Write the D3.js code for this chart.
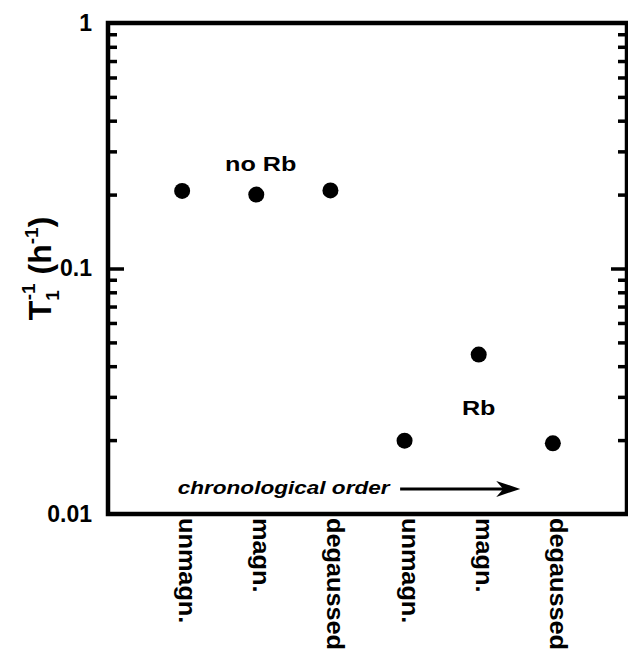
<!DOCTYPE html>
<html>
<head>
<meta charset="utf-8">
<script src="https://cdn.jsdelivr.net/npm/d3@7"></script>
<style>
body { margin: 0; background: #fff; }
text { font-family: "Liberation Sans", Arial, Helvetica, sans-serif; fill: #000; }
</style>
</head>
<body>
<div id="chart"></div>
<script>
// measurement order (chronological), T1^-1 in 1/h
const categories = ['unmagn.', 'magn.', 'degaussed', 'unmagn.', 'magn.', 'degaussed'];
const rates = [0.207, 0.200, 0.208, 0.0199, 0.0446, 0.0194];
const yTicks = [1, 0.1, 0.01];
const yTickLabels = ['1', '0.1', '0.01'];

const svgWidth = 628
const svgHeight = 649
const margin = { left: 108, right: 1, top: 23, bottom: 135 };
const [width, height] = [svgWidth - margin.left - margin.right, svgHeight - margin.top - margin.bottom];

function translate(x, y) {
    return 'translate(' + x + ',' + y + ')';
}

let svg = d3.select('#chart').append('svg')
    .attr('width', svgWidth)
    .attr('height', svgHeight)

let plot = svg.append('g')
    .attr('transform', translate(margin.left, margin.top))

let xScale = d3.scaleLinear()
    .domain([0, categories.length + 1])
    .range([0, width]);

let yScale = d3.scaleLog()
    .domain([0.01, 1])
    .range([height, 0]);

const minorTicks = yScale.ticks().filter(d => !yTicks.includes(d));

// left side: minor + major ticks pointing inwards
plot.append('g').call(d3.axisRight(yScale).tickValues(minorTicks).tickSize(9).tickFormat(''))
    .call(g => g.select('.domain').remove())
    .call(g => g.selectAll('line').attr('stroke-width', 3.5));
plot.append('g').call(d3.axisRight(yScale).tickValues([0.1]).tickSize(16).tickFormat(''))
    .call(g => g.select('.domain').remove())
    .call(g => g.selectAll('line').attr('stroke-width', 3.5));
// right side
plot.append('g').attr('transform', translate(width, 0))
    .call(d3.axisLeft(yScale).tickValues(minorTicks).tickSize(9).tickFormat(''))
    .call(g => g.select('.domain').remove())
    .call(g => g.selectAll('line').attr('stroke-width', 3.5));
plot.append('g').attr('transform', translate(width, 0))
    .call(d3.axisLeft(yScale).tickValues([0.1]).tickSize(16).tickFormat(''))
    .call(g => g.select('.domain').remove())
    .call(g => g.selectAll('line').attr('stroke-width', 3.5));

// tick labels
plot.append('g').call(d3.axisLeft(yScale).tickValues(yTicks).tickSize(0).tickPadding(16)
        .tickFormat((d, i) => yTickLabels[i]))
    .call(g => g.select('.domain').remove())
    .call(g => g.selectAll('text')
        .style('font-size', '23px').style('font-weight', 'bold')
        .style('font-family', '"Liberation Sans", Arial, sans-serif'));

// frame
plot.append('rect')
    .attr('width', width)
    .attr('height', height)
    .attr('fill', 'none')
    .attr('stroke', '#000')
    .attr('stroke-width', 4.5)

// points
plot.selectAll('.pt').data(rates).enter()
    .append('circle')
    .attr('class', 'pt')
    .attr('cx', (d, i) => xScale(i + 1))
    .attr('cy', d => yScale(d))
    .attr('r', 8)
    .attr('fill', '#000')

// category labels, rotated
plot.selectAll('.cat').data(categories).enter()
    .append('text')
    .attr('class', 'cat')
    .attr('transform', (d, i) => translate(xScale(i + 1) - 3, height + 4) + ' rotate(90) scale(1.1,1)')
    .style('font-size', '23px').style('font-weight', 'bold')
    .text(d => d)

// annotations
plot.append('text')
    .attr('transform', translate(xScale(2.06), yScale(0.249)) + ' scale(1.2,1)')
    .attr('text-anchor', 'middle')
    .style('font-size', '21px').style('font-weight', 'bold')
    .text('no Rb')
plot.append('text')
    .attr('transform', translate(xScale(5.0), yScale(0.0253)) + ' scale(1.2,1)')
    .attr('text-anchor', 'middle')
    .style('font-size', '21px').style('font-weight', 'bold')
    .text('Rb')

plot.append('text')
    .attr('transform', translate(xScale(0.94), yScale(0.01205)) + ' scale(1.22,1)')
    .style('font-size', '18.5px').style('font-weight', 'bold').style('font-style', 'italic')
    .text('chronological order')

const ay = yScale(0.01265);
const [ax0, ax1] = [xScale(3.94), xScale(5.56)];
plot.append('line')
    .attr('x1', ax0).attr('x2', ax1 - 12)
    .attr('y1', ay).attr('y2', ay)
    .attr('stroke', '#000').attr('stroke-width', 3)
plot.append('path')
    .attr('d', `M${ax1},${ay} L${ax1 - 24},${ay - 8} L${ax1 - 17},${ay} L${ax1 - 24},${ay + 8} Z`)
    .attr('fill', '#000')

// y title
let title = svg.append('text')
    .attr('transform', translate(51, margin.top + height / 2) + ' rotate(-90)')
    .attr('text-anchor', 'middle')
    .style('font-size', '32px').style('font-weight', 'bold')
title.append('tspan').text('T')
title.append('tspan').attr('dy', 8).style('font-size', '19px').text('1')
title.append('tspan').attr('dx', -10).attr('dy', -24).style('font-size', '19px').text('-1')
title.append('tspan').attr('dy', 16).text(' (h')
title.append('tspan').attr('dy', -13).style('font-size', '19px').text('-1')
title.append('tspan').attr('dy', 13).text(')')
</script>
</body>
</html>
